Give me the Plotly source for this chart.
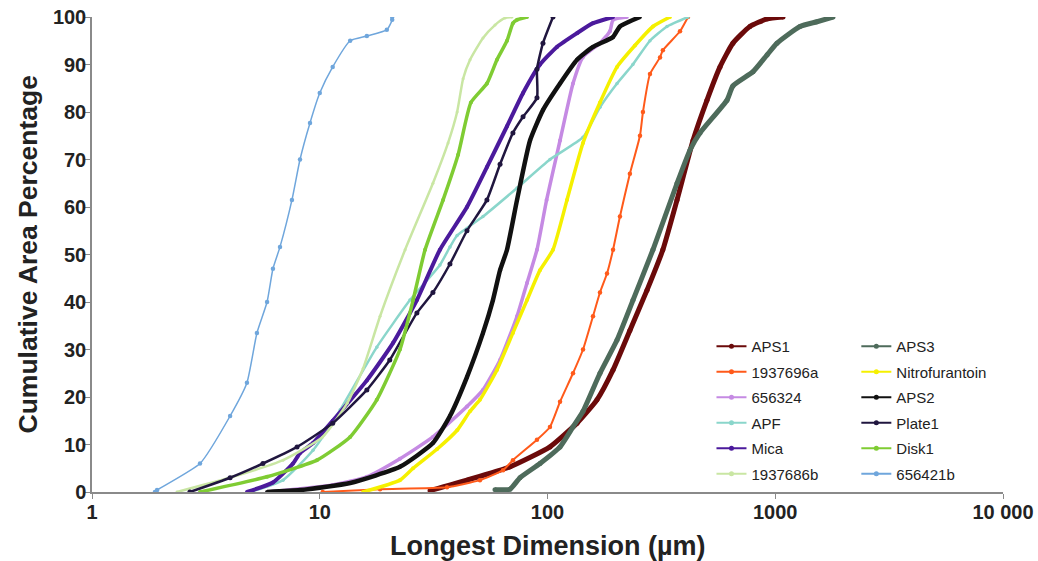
import plotly.graph_objects as go

# ---- data (longest dimension in µm, cumulative area %) ----
aps1_x = [30.5, 44.3, 68.4, 102.5, 134.8, 164.9, 194, 230, 273.5, 321, 370.5, 435.4, 501.5, 572, 652, 774, 920, 1082]
aps1_y = [0.3, 2.5, 5.3, 9.5, 14.5, 19.4, 25.7, 34, 42.5, 51, 61.5, 74, 82.5, 89.5, 94.5, 98, 99.6, 100]

aps3_x = [58.8, 68.4, 75.7, 92.7, 113.5, 129.4, 143.2, 170, 202, 237.4, 290.4, 370.5, 422.5, 467.4, 614, 652, 799, 920, 1018, 1284, 1525, 1793]
aps3_y = [0.5, 0.6, 3, 6, 9.5, 13.7, 17, 25, 32, 40.4, 51, 65, 72, 75.6, 82.5, 85.5, 88.5, 92, 94.5, 98, 99, 100]

s1937696a_x = [10.3, 18.4, 36.2, 50.5, 63.8, 70.5, 89.9, 102.5, 113.5, 129.4, 143.2, 158.4, 170, 182.5, 194, 208, 230, 254.7, 262.5, 281.8, 311.9, 321, 381.8, 414]
s1937696a_y = [0, 0.6, 1, 2.5, 4.6, 6.7, 11, 13.7, 19, 25, 30, 37, 42, 46, 51, 58, 67, 75, 80, 88, 91.5, 93, 97, 100]

nitro_x = [15.5, 22.5, 25.7, 32.7, 40.1, 45.7, 50.5, 60, 70.5, 81.3, 92.7, 105.7, 121.8, 143.2, 170, 202, 242, 290.4, 345]
nitro_y = [0, 2.5, 5, 9, 13, 17, 19.4, 25.7, 33.5, 40.4, 46.7, 51, 61.5, 73.5, 82, 89.5, 94, 98, 100]

s656324_x = [5.9, 11.4, 16.1, 22.5, 31.4, 44.3, 52.1, 61.9, 73.5, 81.3, 89.9, 99.1, 113.5, 129.4, 143.2, 170, 188, 194, 223]
s656324_y = [0, 1.5, 3.2, 7, 11.6, 18, 21.5, 27.8, 37, 44, 51, 61.5, 74, 86, 91.6, 94.5, 97, 99.4, 100]

aps2_x = [5.87, 8.19, 13.6, 22.5, 31.4, 37.3, 44.3, 52.1, 57.6, 61.9, 66.4, 73.5, 83.8, 95.5, 113.5, 134.8, 158.4, 194, 208, 254.7]
aps2_y = [0, 0.4, 1.9, 5.3, 10.3, 16, 24.2, 33.5, 40.4, 46.7, 51, 61.5, 74, 80.4, 86, 91, 93.7, 95.8, 98, 100]

apf_x = [4.94, 6.9, 9.34, 12.3, 17.8, 24.9, 33.7, 37.3, 40.1, 52.1, 73.5, 102.5, 143.2, 170, 202, 237, 281.8, 334.7, 414]
apf_y = [0, 2.5, 8.8, 17.3, 30.5, 40.4, 47.8, 51.6, 54, 58, 64, 70, 74.7, 81, 86, 90, 95, 98, 100]

plate1_x = [2.69, 4.04, 5.63, 7.95, 11.4, 16.1, 20.3, 26.7, 31.4, 37.3, 44.3, 54.2, 61.9, 70.5, 78.1, 89.9, 89.9, 95.5, 105.7]
plate1_y = [0, 3, 6, 9.5, 14.5, 21.5, 27.8, 37.7, 42, 48, 55, 61.5, 69, 75.6, 79, 83, 89, 94.5, 100]

mica_x = [4.79, 6.23, 7.63, 8.19, 9.34, 11.4, 16.1, 21.0, 26.7, 33.7, 44.3, 54.2, 66.4, 78.1, 92.7, 110, 134.8, 158.4, 194]
mica_y = [0, 2, 6, 8.2, 10.3, 15, 23.5, 31.4, 40.4, 51, 60, 68.4, 77, 84, 90, 93.7, 96.6, 98.7, 100]

disk1_x = [2.98, 5.87, 9.72, 13.6, 17.8, 22.5, 25.7, 29.0, 34.8, 40.5, 46.1, 54.2, 60, 66.4, 70.5, 73.5, 81.3]
disk1_y = [0, 3.2, 6.7, 11.6, 19.4, 30, 40.4, 51, 61.5, 71, 82, 86, 91, 95, 98.7, 99.4, 100]

s1937686b_x = [2.36, 4.16, 6.9, 10.3, 13.2, 15.5, 18.4, 23.7, 31.4, 36.6, 40.1, 42.6, 45.7, 52.1, 58.8, 65.1, 69.8]
s1937686b_y = [0, 3.2, 6.7, 11.6, 18.7, 26, 37, 51, 65, 73.5, 80, 87, 91, 95.6, 98.3, 99.8, 100]

s656421b_x = [1.89, 1.93, 2.98, 4.04, 4.79, 5.30, 5.87, 6.23, 6.69, 7.55, 8.19, 9.06, 10.0, 11.4, 13.6, 16.1, 19.7, 20.8, 20.8]
s656421b_y = [0, 0.4, 6, 16, 23, 33.5, 40, 47, 51.6, 61.5, 70, 77.7, 84, 89.5, 95, 96, 97.3, 99.4, 100]

x_tickvals = [1, 10, 100, 1000, 10000]
x_ticktext = ["1", "10", "100", "1000", "10 000"]
y_tickvals = [0, 10, 20, 30, 40, 50, 60, 70, 80, 90, 100]

# (name, x, y, color, line width, marker size, legend)
series = [
    ("APS1", aps1_x, aps1_y, "#6b0a0a", 5, 5, "legend"),
    ("1937696a", s1937696a_x, s1937696a_y, "#ff5a1a", 2, 4.5, "legend"),
    ("656324", s656324_x, s656324_y, "#c58ae3", 3.5, 4, "legend"),
    ("APF", apf_x, apf_y, "#8ad6cb", 2.5, 3.5, "legend"),
    ("Mica", mica_x, mica_y, "#4b1a9c", 4, 4, "legend"),
    ("1937686b", s1937686b_x, s1937686b_y, "#c9e6a3", 2.5, 3, "legend"),
    ("APS3", aps3_x, aps3_y, "#4e6b5b", 5, 5, "legend2"),
    ("Nitrofurantoin", nitro_x, nitro_y, "#f5f000", 3.5, 4, "legend2"),
    ("APS2", aps2_x, aps2_y, "#111111", 4.5, 4, "legend2"),
    ("Plate1", plate1_x, plate1_y, "#20163f", 2.5, 5, "legend2"),
    ("Disk1", disk1_x, disk1_y, "#7fcc33", 3.5, 4, "legend2"),
    ("656421b", s656421b_x, s656421b_y, "#6fa6dc", 1.5, 4.5, "legend2"),
]

fig = go.Figure()
for name, xs, ys, col, lw, ms, lg in series:
    fig.add_trace(go.Scatter(
        x=xs, y=ys, name=name, mode="lines+markers",
        line=dict(color=col, width=lw, shape="spline", smoothing=0.5),
        marker=dict(color=col, size=ms),
        showlegend=False, legendgroup=name,
    ))
# legend entries (thin line with a dot, as in the reference key)
for name, xs, ys, col, lw, ms, lg in series:
    fig.add_trace(go.Scatter(
        x=[None], y=[None], name=name, mode="lines+markers",
        line=dict(color=col, width=2), marker=dict(color=col, size=5),
        legend=lg, legendgroup=name, showlegend=True, hoverinfo="skip",
    ))

axis_font = dict(family="Liberation Sans, Arial, sans-serif", size=20, color="#222222", weight="bold")
fig.update_layout(
    width=1038, height=561,
    margin=dict(l=92, r=35, t=17, b=69, autoexpand=False),
    paper_bgcolor="white", plot_bgcolor="white",
    font=dict(family="Liberation Sans, Arial, sans-serif", color="#222222"),
    xaxis=dict(type="log", range=[0, 4], tickvals=x_tickvals, ticktext=x_ticktext,
               showgrid=False, zeroline=False, showline=True, linecolor="#8a8a8a", linewidth=1.5,
               ticks="outside", ticklen=5, tickcolor="#8a8a8a", tickfont=axis_font,
               ticklabelstandoff=-4, automargin=False),
    yaxis=dict(range=[0, 100], tickvals=y_tickvals, showgrid=False, zeroline=False,
               showline=True, linecolor="#8a8a8a", linewidth=1.5,
               ticks="outside", ticklen=5, tickcolor="#8a8a8a", tickfont=axis_font,
               ticklabelstandoff=-5, automargin=False),
    legend=dict(x=0.68, y=0.341, xanchor="left", yanchor="top", bgcolor="rgba(0,0,0,0)",
                font=dict(size=15, color="#222222"), tracegroupgap=3),
    legend2=dict(x=0.839, y=0.341, xanchor="left", yanchor="top", bgcolor="rgba(0,0,0,0)",
                 font=dict(size=15, color="#222222"), tracegroupgap=3),
    annotations=[
        dict(text="Longest Dimension (µm)", xref="paper", yref="paper", x=0.5, y=-0.113,
             xanchor="center", yanchor="middle", showarrow=False,
             font=dict(size=27, color="#222222", weight="bold")),
        dict(text="Cumulative Area Percentage", xref="paper", yref="paper", x=-0.0703, y=0.5,
             xanchor="center", yanchor="middle", textangle=-90, showarrow=False,
             font=dict(size=26.5, color="#222222", weight="bold")),
    ],
)

fig.write_html("out.html", config={"displayModeBar": False},
               post_script="document.body.style.margin='0px';")
